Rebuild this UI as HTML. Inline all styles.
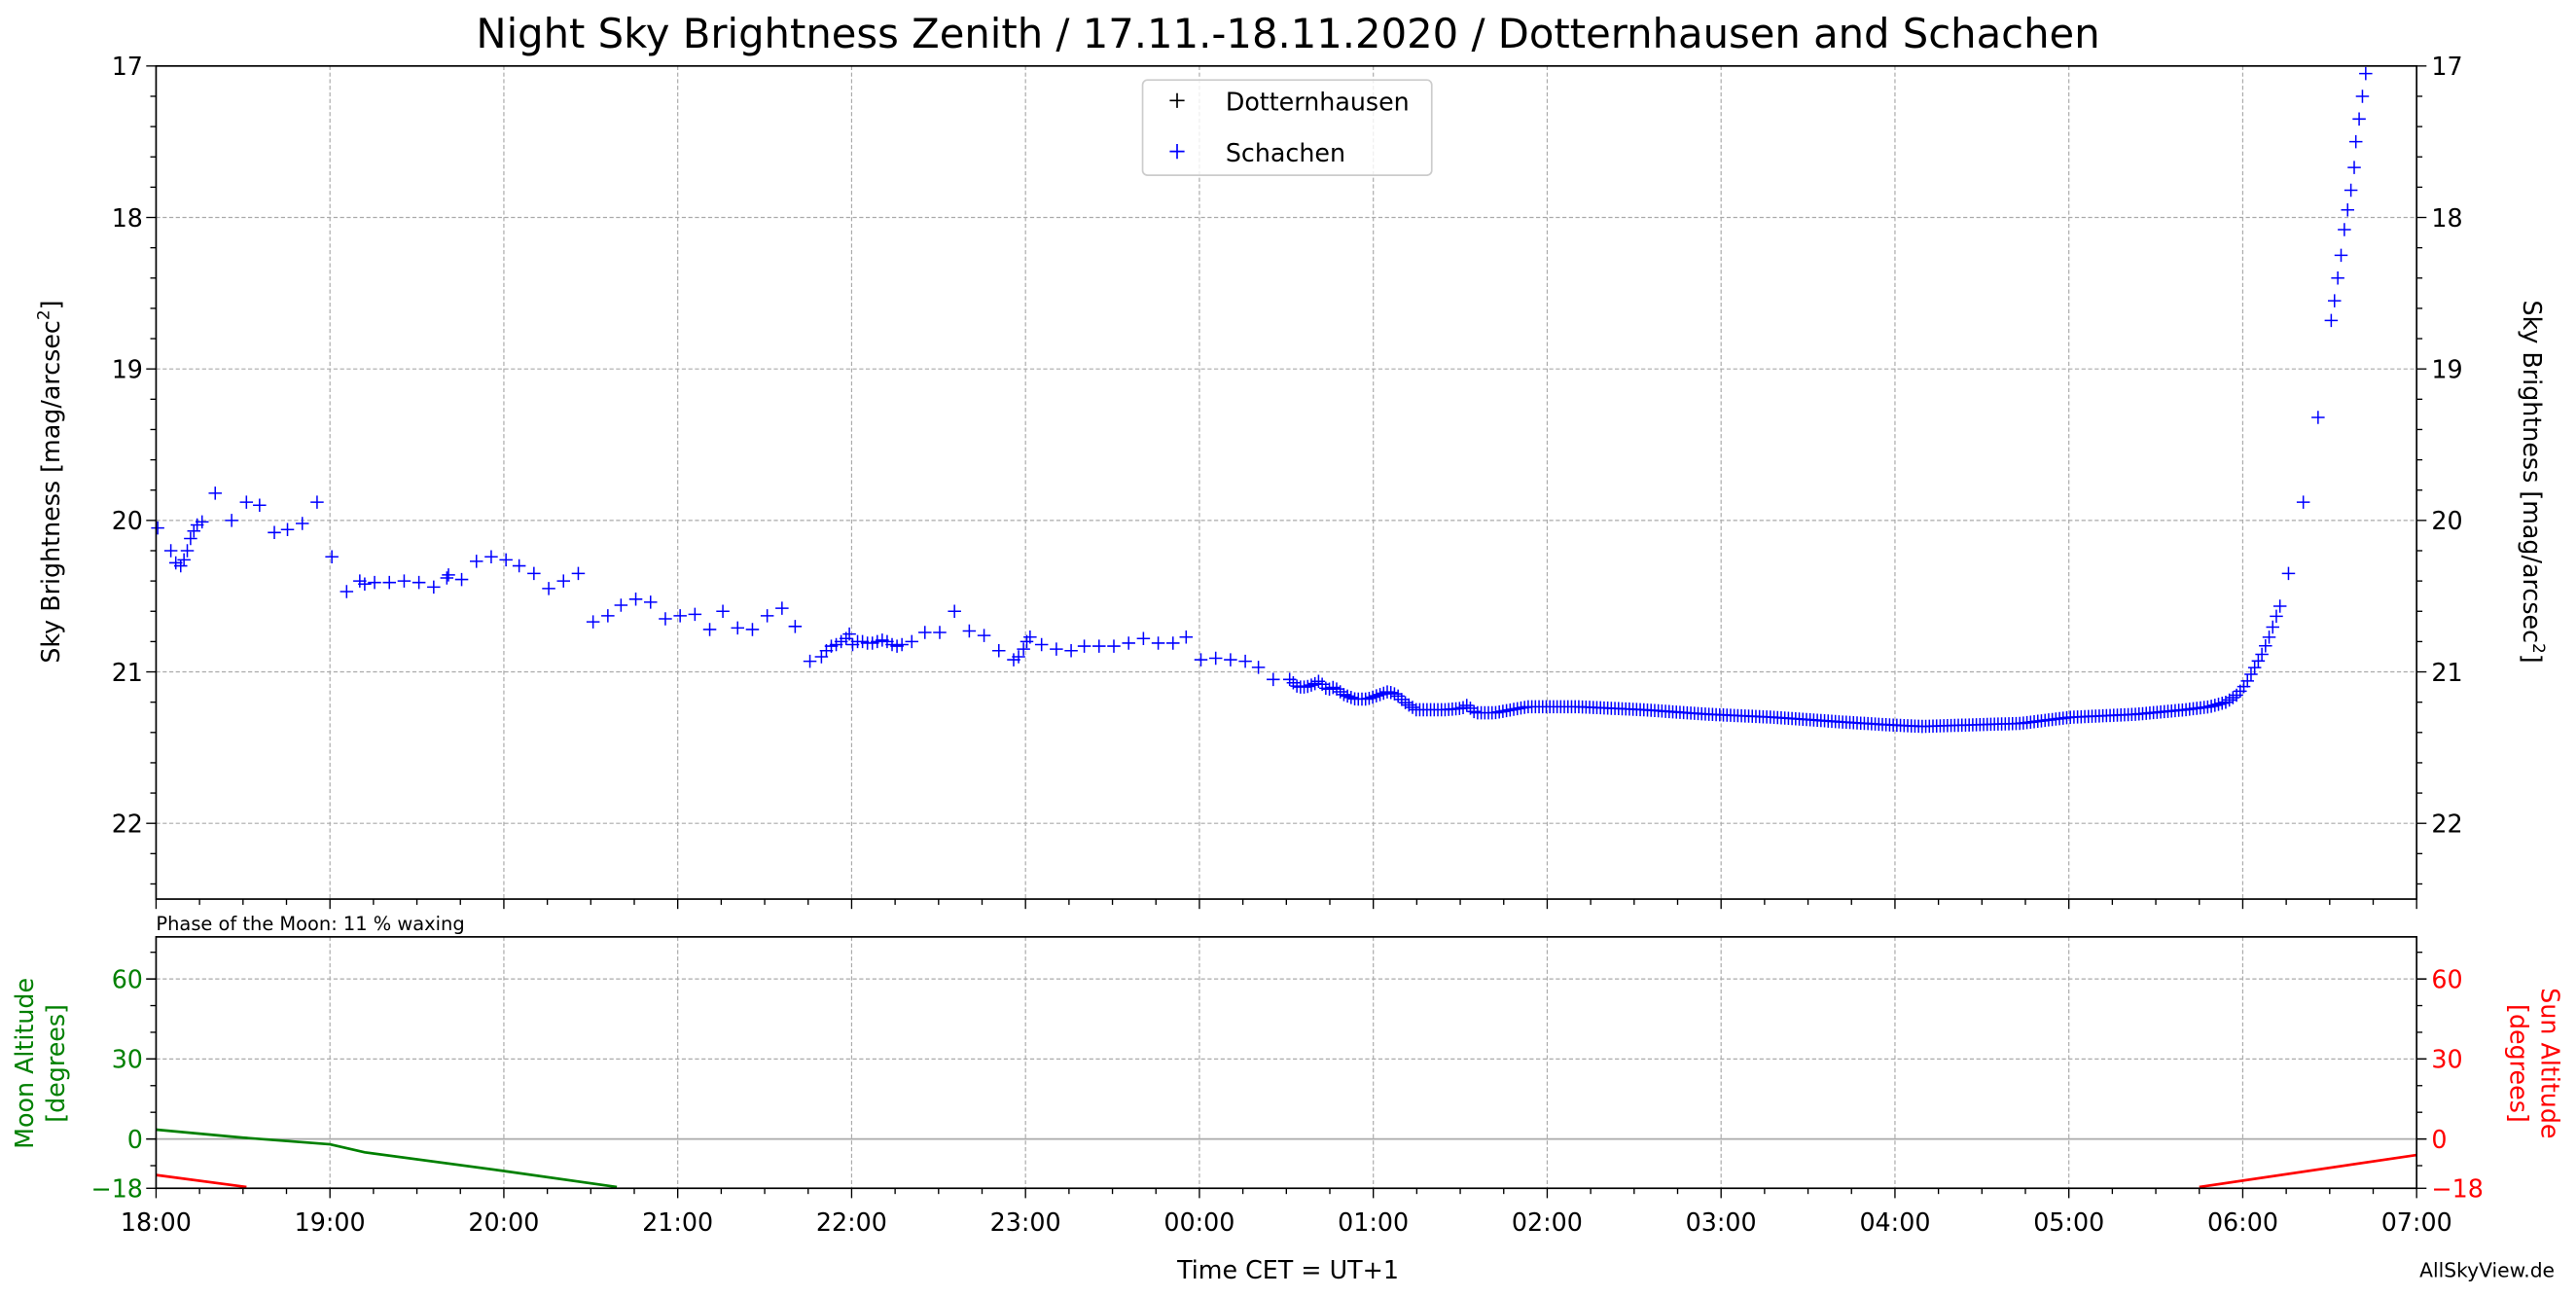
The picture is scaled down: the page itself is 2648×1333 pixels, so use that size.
<!DOCTYPE html>
<html><head><meta charset="utf-8"><style>
html,body{margin:0;padding:0;background:#fff;}
svg{display:block;}
text{font-family:"DejaVu Sans","Liberation Sans",sans-serif;}
</style></head><body>
<svg id="s" xmlns="http://www.w3.org/2000/svg" width="2648" height="1333" viewBox="0 0 1568 789">
<rect width="1568" height="789" fill="#fff"/>
<g id="grid"></g>
<g id="data"></g>
<g id="axes"></g>
<text x="784" y="29" font-size="24.7" text-anchor="middle">Night Sky Brightness Zenith / 17.11.-18.11.2020 / Dotternhausen and Schachen</text>
<text transform="translate(36,293) rotate(-90)" font-size="15" text-anchor="middle">Sky Brightness [mag/arcsec<tspan font-size="10" dy="-6">2</tspan><tspan dy="6">]</tspan></text>
<text transform="translate(1536,293) rotate(90)" font-size="15" text-anchor="middle">Sky Brightness [mag/arcsec<tspan font-size="10" dy="-6">2</tspan><tspan dy="6">]</tspan></text>
<text transform="translate(20,647) rotate(-90)" font-size="15" text-anchor="middle" fill="#008000">Moon Altitude</text>
<text transform="translate(39,647) rotate(-90)" font-size="15" text-anchor="middle" fill="#008000">[degrees]</text>
<text transform="translate(1547,647) rotate(90)" font-size="15" text-anchor="middle" fill="#ff0000">Sun Altitude</text>
<text transform="translate(1528,647) rotate(90)" font-size="15" text-anchor="middle" fill="#ff0000">[degrees]</text>
<text x="95" y="566" font-size="11.5">Phase of the Moon: 11 % waxing</text>
<text x="784" y="778" font-size="15" text-anchor="middle">Time CET = UT+1</text>
<text x="1555" y="777" font-size="12" text-anchor="end">AllSkyView.de</text>
<g>
<rect x="695.5" y="48.5" width="176" height="58" rx="3" fill="#fff" fill-opacity="0.8" stroke="#ccc" stroke-width="1"/>
<path d="M712 61h9M716.5 56.5v9" stroke="#000" stroke-width="1"/>
<path d="M712 92h9M716.5 87.5v9" stroke="#00f" stroke-width="1"/>
<text x="746" y="67" font-size="15">Dotternhausen</text>
<text x="746" y="98" font-size="15">Schachen</text>
</g>
</svg>
<script>
var NS="http://www.w3.org/2000/svg";
function el(p,t,a,txt){var e=document.createElementNS(NS,t);for(var k in a)e.setAttribute(k,a[k]);if(txt!==undefined)e.textContent=txt;document.getElementById(p).appendChild(e);return e;}
var L=95,R=1471,T=40,B=547,T2=570,B2=723;
var hx=(R-L)/13;
function ym(m){return T+(m-17)*(B-T)/5.5;}
function yd(d){return 693-d*48.7/30;}
var labs=["18:00","19:00","20:00","21:00","22:00","23:00","00:00","01:00","02:00","03:00","04:00","05:00","06:00","07:00"];
for(var i=1;i<13;i++){var x=L+i*hx;
el("grid","line",{x1:x,x2:x,y1:T,y2:B,stroke:"#aaa","stroke-width":0.7,"stroke-dasharray":"2.5,1.5"});
el("grid","line",{x1:x,x2:x,y1:T2,y2:B2,stroke:"#aaa","stroke-width":0.7,"stroke-dasharray":"2.5,1.5"});}
for(var m=18;m<=22;m++){var y=ym(m);el("grid","line",{x1:L,x2:R,y1:y,y2:y,stroke:"#aaa","stroke-width":0.7,"stroke-dasharray":"2.5,1.5"});}
[30,60].forEach(function(d){var y=yd(d);el("grid","line",{x1:L,x2:R,y1:y,y2:y,stroke:"#aaa","stroke-width":0.7,"stroke-dasharray":"2.5,1.5"});});
el("grid","line",{x1:L,x2:R,y1:yd(0),y2:yd(0),stroke:"#aaa","stroke-width":1});
var P=[[96,20.05],[104,20.2],[107,20.28],[110,20.3],[112,20.26],[114,20.2],[116,20.12],[118,20.07],[120,20.03],[123,20.01],[131,19.82],[141,20.0],[150,19.88],[158,19.9],[167,20.08],[175,20.06],[184,20.02],[193,19.88],[202,20.24],[211,20.47],[219,20.4],[222,20.42],[228,20.41],[237,20.41],[246,20.4],[255,20.41],[264,20.44],[272,20.38],[273,20.36],[281,20.39],[290,20.27],[299,20.24],[308,20.26],[316,20.3],[325,20.35],[334,20.45],[343,20.4],[352,20.35],[361,20.67],[370,20.63],[378,20.56],[387,20.52],[396,20.54],[405,20.65],[414,20.63],[423,20.62],[432,20.72],[440,20.6],[449,20.71],[458,20.72],[467,20.63],[476,20.58],[484,20.7],[493,20.93],[500,20.9],[503,20.86],[506,20.83],[509,20.82],[512,20.8],[515,20.78],[517,20.75],[519,20.82],[522,20.8],[525,20.8],[528,20.81],[531,20.81],[534,20.8],[537,20.79],[540,20.8],[543,20.82],[546,20.83],[549,20.82],[555,20.8],[563,20.74],[572,20.74],[581,20.6],[590,20.73],[599,20.76],[608,20.86],[617,20.92],[620,20.9],[623,20.85],[625,20.8],[627,20.77],[634,20.82],[643,20.85],[652,20.86],[660,20.83],[669,20.83],[678,20.83],[687,20.81],[696,20.78],[705,20.81],[714,20.81],[722,20.77],[731,20.92],[740,20.91],[749,20.92],[758,20.93],[766,20.97],[775,21.05]];
var D=[[785,21.05],[790,21.1],[795,21.1],[800,21.08],[803,21.06],[808,21.12],[812,21.1],[818,21.15],[825,21.18],[832,21.18],[840,21.15],[845,21.13],[850,21.15],[855,21.2],[862,21.25],[880,21.25],[890,21.24],[893,21.22],[898,21.27],[910,21.27],[930,21.23],[960,21.23],[1000,21.25],[1040,21.28],[1080,21.3],[1120,21.33],[1150,21.35],[1170,21.36],[1200,21.35],[1230,21.34],[1260,21.3],[1300,21.28],[1330,21.25],[1345,21.23],[1355,21.2],[1362,21.15],[1367,21.08],[1372,20.98],[1377,20.88],[1382,20.75],[1386,20.62],[1388,20.56]];
for(var x=785;x<=1388;x+=2.2){for(var j=0;j<D.length-1;j++){if(x>=D[j][0]&&x<=D[j+1][0]){var f=(x-D[j][0])/(D[j+1][0]-D[j][0]);P.push([x,D[j][1]+f*(D[j+1][1]-D[j][1])]);break;}}}
P=P.concat([[1393,20.35],[1402,19.88],[1411,19.32],[1419,18.68],[1421,18.55],[1423,18.4],[1425,18.25],[1427,18.08],[1429,17.95],[1431,17.82],[1433,17.67],[1434,17.5],[1436,17.35],[1438,17.2],[1440,17.05]]);
var d="";P.forEach(function(p){var y=ym(p[1]);d+="M"+(p[0]-4)+" "+y.toFixed(2)+"h8M"+p[0].toFixed(2)+" "+(y-4).toFixed(2)+"v8";});
el("data","path",{d:d,stroke:"#00f","stroke-width":0.9,fill:"none"});
function tx(h){return L+h*hx;}
var moon=[[0,3.5],[0.5,0.5],[1,-2],[1.1,-3.5],[1.2,-5],[2,-12],[2.65,-18]];
el("data","polyline",{points:moon.map(function(p){return tx(p[0])+","+yd(p[1]);}).join(" "),stroke:"#008000","stroke-width":1.6,fill:"none"});
el("data","polyline",{points:tx(0)+","+yd(-13.5)+" "+tx(0.52)+","+yd(-18),stroke:"#f00","stroke-width":1.6,fill:"none"});
el("data","polyline",{points:tx(11.75)+","+yd(-18)+" "+tx(13)+","+yd(-6),stroke:"#f00","stroke-width":1.6,fill:"none"});
el("axes","rect",{x:L,y:T,width:R-L,height:B-T,fill:"none",stroke:"#000","stroke-width":1});
el("axes","rect",{x:L,y:T2,width:R-L,height:B2-T2,fill:"none",stroke:"#000","stroke-width":1});
for(var i=0;i<=52;i++){var x=L+i*hx/4,len=(i%4==0)?6:3.5;
el("axes","line",{x1:x,x2:x,y1:B,y2:B+len,stroke:"#000","stroke-width":0.8});
el("axes","line",{x1:x,x2:x,y1:B2,y2:B2+len,stroke:"#000","stroke-width":0.8});
if(i%4==0)el("axes","text",{x:x,y:749,"font-size":15,"text-anchor":"middle"},labs[i/4]);}
for(var m=17;m<=22.5001;m+=0.2){var y=ym(m),maj=Math.abs(m-Math.round(m))<0.01,len=maj?6:3.5;
el("axes","line",{x1:L-len,x2:L,y1:y,y2:y,stroke:"#000","stroke-width":0.8});
el("axes","line",{x1:R,x2:R+len,y1:y,y2:y,stroke:"#000","stroke-width":0.8});
if(maj){var r=Math.round(m);el("axes","text",{x:L-8,y:y+5.5,"font-size":15,"text-anchor":"end"},r);el("axes","text",{x:R+9,y:y+5.5,"font-size":15},r);}}
for(var dg=-10;dg<=70;dg+=10){var y=yd(dg),maj=dg%30==0,len=maj?6:3.5;
el("axes","line",{x1:L-len,x2:L,y1:y,y2:y,stroke:"#000","stroke-width":0.8});
el("axes","line",{x1:R,x2:R+len,y1:y,y2:y,stroke:"#000","stroke-width":0.8});}
[-18,0,30,60].forEach(function(dg){var y=dg==-18?B2:yd(dg);
el("axes","line",{x1:L-6,x2:L,y1:y,y2:y,stroke:"#000","stroke-width":0.8});
el("axes","line",{x1:R,x2:R+6,y1:y,y2:y,stroke:"#000","stroke-width":0.8});
var t=dg<0?"\u221218":String(dg);
el("axes","text",{x:L-8,y:y+5.5,"font-size":15,"text-anchor":"end",fill:"#008000"},t);
el("axes","text",{x:R+9,y:y+5.5,"font-size":15,fill:"#f00"},t);});
</script>
</body></html>
